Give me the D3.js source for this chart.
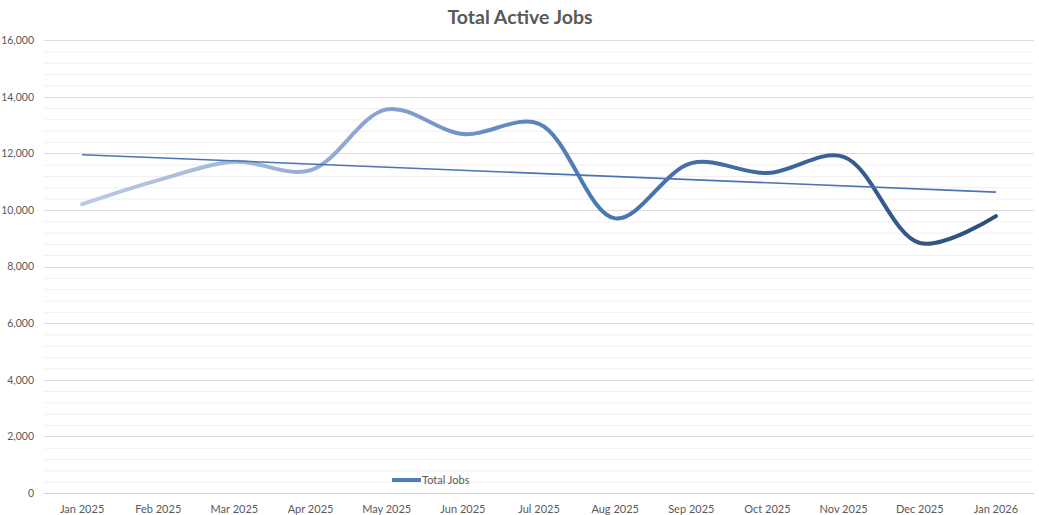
<!DOCTYPE html>
<html><head><meta charset="utf-8">
<script src="https://cdn.jsdelivr.net/npm/d3@7"></script>
<style>body{margin:0;background:#fff;} svg{display:block;font-family:Lato,"Open Sans",sans-serif;}</style>
</head><body>
<svg id="c" width="1039" height="515"></svg>
<script>
const categories = ["Jan 2025","Feb 2025","Mar 2025","Apr 2025","May 2025","Jun 2025","Jul 2025","Aug 2025","Sep 2025","Oct 2025","Nov 2025","Dec 2025","Jan 2026"];
const totalJobs = [10200,11050,11700,11400,13550,12680,13040,9700,11650,11300,11870,8830,9780];
const yTicks = [0,2000,4000,6000,8000,10000,12000,14000,16000];
const title = "Total Active Jobs";
const seriesName = "Total Jobs";

const W=1039,H=515;
const m={left:44,right:5,top:40,bottom:22};
const svg=d3.select("#c");
const x=d3.scaleBand().domain(categories).range([m.left,W-m.right]).padding(0);
const y=d3.scaleLinear().domain([0,16000]).range([H-m.bottom,m.top]);
const cx=c=>x(c)+x.bandwidth()/2;

// minor grid
const minor=d3.range(0,16001,400).filter(v=>v%2000!==0);
svg.append("g").selectAll("line").data(minor).join("line")
  .attr("x1",m.left).attr("x2",W-m.right).attr("y1",d=>y(d)+0.5).attr("y2",d=>y(d)+0.5)
  .attr("stroke","#f0f0f0").attr("stroke-width",1);
// major grid
svg.append("g").selectAll("line").data(yTicks).join("line")
  .attr("x1",m.left).attr("x2",W-m.right).attr("y1",d=>Math.round(y(d))+0.5).attr("y2",d=>Math.round(y(d))+0.5)
  .attr("stroke",d=>d===0?"#d0d0d0":"#dcdcdc").attr("stroke-width",1);

// y axis labels
const ya=svg.append("g").attr("transform",`translate(${m.left-10},0)`)
  .call(d3.axisLeft(y).tickValues(yTicks).tickSize(0).tickPadding(0).tickFormat(d3.format(",")));
ya.select(".domain").remove();
ya.selectAll("text").attr("fill","#595959").style("font-size","10.5px").style("font-family","Lato,sans-serif");

// x axis labels
const xa=svg.append("g").attr("transform",`translate(0,${H-m.bottom+9})`)
  .call(d3.axisBottom(x).tickSize(0));
xa.select(".domain").remove();
xa.selectAll("text").attr("fill","#595959").style("font-size","11px").style("font-family","Lato,sans-serif");

// gradient
const defs=svg.append("defs");
const g=defs.append("linearGradient").attr("id","lg").attr("gradientUnits","userSpaceOnUse")
  .attr("x1",cx(categories[0])).attr("x2",cx(categories[categories.length-1])).attr("y1",0).attr("y2",0);
[[0,"#bccbe4"],[0.3,"#8ea7d1"],[0.55,"#4c7ab7"],[0.8,"#3a6296"],[1,"#2c4d7b"]].forEach(([o,c])=>g.append("stop").attr("offset",o).attr("stop-color",c));

const pts=categories.map((c,i)=>[cx(c),y(totalJobs[i])]);
svg.append("path").attr("d",d3.line().curve(d3.curveCatmullRom.alpha(0.5))(pts))
  .attr("fill","none").attr("stroke","url(#lg)").attr("stroke-width",4).attr("stroke-linecap","round");

// linear trendline
const n=totalJobs.length, xs=d3.range(n);
const mx=d3.mean(xs), my=d3.mean(totalJobs);
const slope=d3.sum(xs,(i)=>(i-mx)*(totalJobs[i]-my))/d3.sum(xs,i=>(i-mx)**2);
const icpt=my-slope*mx;
svg.append("line")
  .attr("x1",cx(categories[0])).attr("y1",y(icpt))
  .attr("x2",cx(categories[n-1])).attr("y2",y(icpt+slope*(n-1)))
  .attr("stroke","#4a74b4").attr("stroke-width",1.6);

// title
svg.append("text").attr("x",520).attr("y",24).attr("text-anchor","middle")
  .attr("fill","#595959").style("font-size","19.5px").style("font-weight","bold").text(title);

// legend
const lg=svg.append("g").attr("transform","translate(392,480)");
lg.append("line").attr("x1",0).attr("x2",29).attr("y1",0).attr("y2",0).attr("stroke","#4f7bb8").attr("stroke-width",4);
lg.append("text").attr("x",30).attr("y",4).attr("fill","#595959").style("font-size","11px").text(seriesName);
</script>
</body></html>
